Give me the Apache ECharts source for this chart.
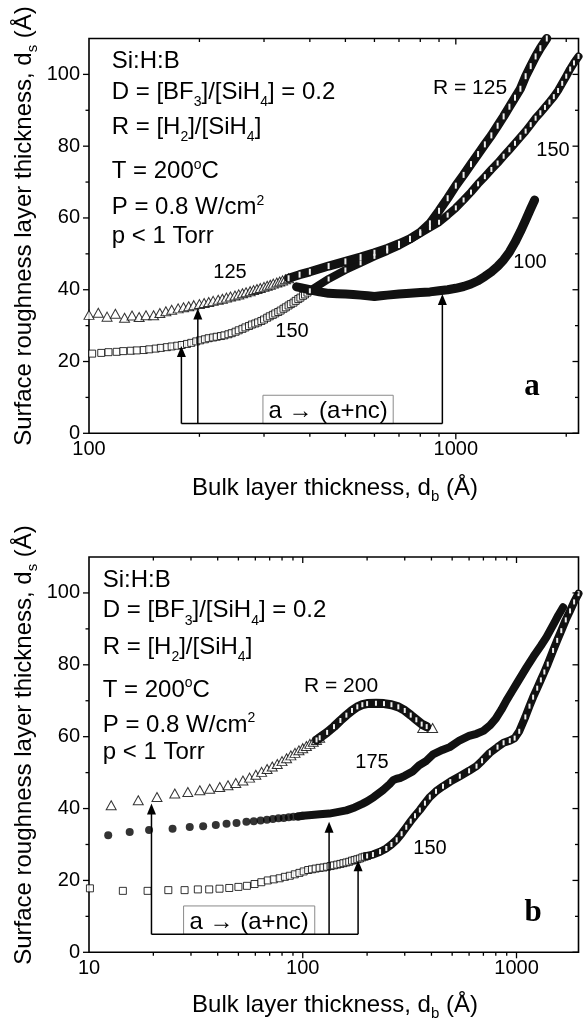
<!DOCTYPE html>
<html><head><meta charset="utf-8">
<script src="https://cdn.jsdelivr.net/npm/echarts@6/dist/echarts.min.js"></script>
<style>html,body{margin:0;padding:0;background:#fff}#c{width:583px;height:1018px}</style>
</head><body><div id="c"></div>
<script>
// ---------------- DATA ----------------
// axis ticks
const yMajor = [0, 20, 40, 60, 80, 100];
const yMinor = [10, 30, 50, 70, 90];
const xMajorA = [1000];
const xMinorA = [200, 300, 400, 500, 600, 700, 800, 900, 2000];
const xMajorB = [100, 1000];
const xMinorB = [20, 30, 40, 50, 60, 70, 80, 90, 200, 300, 400, 500, 600, 700, 800, 900];

// Panel a : R = 125 (open triangles)
const aR125Sparse = [[100,33],[106,33.6],[112,32.5],[118,33.3],[125,32.2],[131,32.8],[137,32.4],[143,32.9],[150,32.9],[156,33.5],[162,34],[168,34.4],[175,34.8],[181,35.1],[187,35.4],[193,35.7],[200,36],[206,36.3],[212,36.6],[218,36.9],[225,37.2],[231,37.5],[237,37.8],[243,38.1],[250,38.4],[256,38.7],[262,39],[268,39.3],[275,39.6],[281,39.9],[287,40.2],[293,40.5],[300,40.8],[306,41.1],[312,41.4],[318,41.7],[325,42],[331,42.3],[337,42.6],[343,42.9],[350,43.2]];
const aR125Dense = [[350,43.2],[375,44.2],[400,45],[450,46.6],[500,47.9],[550,49.1],[600,50.3],[650,51.5],[700,52.8],[750,54.2],[800,56],[850,58.5],[900,62],[950,65.5],[1000,69],[1050,72],[1100,75],[1150,77.8],[1200,80.5],[1250,83],[1300,85.7],[1350,88.3],[1400,91],[1450,93.5],[1500,96],[1550,99.5],[1600,102.3],[1650,105],[1700,107.3],[1770,110]];
// Panel a : R = 150 (open squares)
const aR150Sparse = [[102,22.2],[108,22.4],[113,22.6],[119,22.7],[124,22.9],[130,23],[135,23.1],[141,23.2],[146,23.4],[152,23.6],[157,23.8],[163,24],[168,24.2],[174,24.4],[179,24.6],[185,24.9],[190,25.2],[196,25.6],[201,25.9],[207,26.2],[212,26.5],[218,26.7],[223,26.9],[229,27.1],[234,27.3],[240,27.6],[245,27.9],[251,28.3],[256,28.7],[262,29.1],[267,29.5],[273,29.9],[278,30.3],[284,30.6],[289,30.9],[295,31.3],[300,31.7],[306,32.2],[311,32.6],[317,33],[322,33.4],[328,33.8],[333,34.2],[339,34.7],[344,35.1],[350,35.6],[355,36],[361,36.4],[366,36.9],[372,37.4],[377,37.8],[383,38.3],[388,38.7],[394,39.2],[400,39.7]];
const aR150Dense = [[400,39.7],[450,43],[500,45.5],[550,47.5],[600,49.3],[650,50.8],[700,52.3],[750,54],[800,55.7],[850,57.3],[900,58.8],[950,60.8],[1000,62.8],[1050,65],[1100,67.2],[1150,69.5],[1200,71.5],[1250,73.5],[1300,75.3],[1350,77.2],[1400,79],[1450,80.8],[1500,82.5],[1550,84.2],[1600,86],[1650,87.8],[1700,89.3],[1750,90.8],[1800,92.3],[1850,93.8],[1900,95.5],[1950,97.5],[2000,99.5],[2050,101.5],[2100,103.2],[2160,105]];
// Panel a : R = 100 (filled circles, dense)
const aR100 = [[368,40.8],[380,40.5],[400,40],[425,39.4],[450,39],[475,38.9],[500,38.8],[525,38.7],[550,38.5],[575,38.3],[600,38.1],[625,38.3],[650,38.5],[700,38.8],[750,39],[800,39.2],[850,39.4],[900,39.7],[950,40],[1000,40.4],[1050,40.9],[1100,41.6],[1150,42.5],[1200,43.7],[1250,45],[1300,46.5],[1350,48.3],[1400,50.5],[1450,53.2],[1500,56.2],[1550,59.4],[1600,62.6],[1640,65]];

// Panel b : R = 200 (open triangles)
const bR200Sparse = [[12.7,40.9],[17,42.3],[20.8,43.2],[25.2,44.2],[29,44.6],[33,45.1],[36.7,45.5],[40.9,46],[44.7,46.5],[48.6,47.1],[52.5,47.8],[56.4,48.6],[60.3,49.4],[64.2,50.2],[68.1,51],[72,51.7],[76,52.4],[80,53.2],[84,54],[88,54.8],[92,55.5],[96,56.2],[100,56.8],[104,57.4],[108,58],[112,58.6],[116,59.1],[120,59.7]];
const bR200Dense = [[116,59.1],[120,59.7],[130,61.2],[140,62.8],[150,64.5],[160,66],[170,67.3],[180,68.3],[190,68.9],[200,69.2],[220,69.3],[240,69.2],[260,68.9],[280,68.3],[300,67.3],[320,66],[340,64.7],[360,63.5],[380,62.8]];
const bR200Tail = [[364,62.4],[405,62.4]];
// Panel b : R = 175 (filled circles)
const bR175Sparse = [[12.3,32.6],[15.5,33.5],[19.1,34],[24.6,34.4],[29.6,34.9],[34.2,35.1],[39.2,35.4],[44,35.8],[49,36],[54.5,36.3],[59,36.5],[63.5,36.7],[68,36.9],[72.5,37.1],[77,37.3],[81.5,37.4],[86,37.6],[90.5,37.7],[95,37.8],[99.5,38]];
const bR175Dense = [[95,37.8],[100,38],[110,38.2],[120,38.4],[133,38.6],[145,39],[160,39.5],[175,40.3],[190,41.3],[200,42],[215,43.2],[237,45.1],[255,46.8],[265,47.9],[275,48.3],[285,48.5],[300,49.1],[328,50.4],[350,52],[379,53.3],[407,55.1],[450,56.3],[487,57.1],[543,59],[600,60.2],[650,60.8],[700,61.6],[750,63.1],[800,65],[850,67.5],[898,70.1],[950,72.5],[1000,74.7],[1114,79.3],[1200,82.3],[1300,85.3],[1381,87.7],[1450,90],[1500,91.6],[1570,93.8],[1652,96]];
// Panel b : R = 150 (open squares)
const bR150Sparse = [[10.1,17.8],[14.4,17.1],[18.8,17.1],[23.5,17.3],[28,17.3],[32.3,17.5],[36.5,17.5],[40.8,17.7],[45.3,17.9],[50,18.2],[54.8,18.5],[59.5,19],[64,19.5],[68.6,20],[73.2,20.3],[78,20.6],[82.5,21],[87,21.3],[91.8,21.7],[96.5,22.1],[101,22.5],[106,22.9],[110.5,23.1],[115,23.3],[120,23.5],[125,23.6],[130,23.8],[135,24],[140,24.2],[145,24.4],[150,24.6],[155,24.8],[160,25],[165,25.2],[170,25.5],[175,25.7],[180,25.9],[185,26.1],[190,26.4],[195,26.6],[200,26.8]];
const bR150Dense = [[200,26.8],[213,27.2],[230,28],[246,28.9],[260,30],[275,31.3],[290,33],[305,34.8],[320,36.5],[335,38],[353,39.6],[373,41.5],[393,43.2],[420,44.8],[453,46.2],[490,47.5],[543,49],[600,50.5],[650,51.8],[690,53.3],[750,55.5],[815,57.1],[870,58.3],[930,58.9],[980,59.6],[1030,61.5],[1100,65.5],[1150,68.5],[1196,71],[1250,73.5],[1300,75.8],[1350,78],[1400,80.2],[1483,84],[1550,86.8],[1620,89.5],[1700,92.5],[1780,95],[1860,97.5],[1950,99.8]];

// transition arrows [x, tip y] and bracket baseline, label box [x0, y0, x1, y1]
const arrowsA = [[178.6,24.3],[198,34.8],[919,38.8]];
const baseA = 2.7;
const boxA = [298, 2.7, 675, 10.6];
const arrowsB = [[19.6,41.4],[132.8,36.3],[181.5,25.6]];
const baseB = 5.0;
const boxB = [27.7, 5.0, 113.8, 12.9];

// ---------------- CHART ----------------
const F = "'Liberation Sans', Arial, Helvetica, sans-serif";
const FS = "'Liberation Serif', 'Times New Roman', serif";
const Y_MAX = 110;
const panels = [
  {xMin:100, xMax:2160, xMajor:xMajorA, xMinor:xMinorA},
  {xMin:10, xMax:1950, xMajor:xMajorB, xMinor:xMinorB}
];

function isPow10(v){ const l = Math.log10(v); return Math.abs(l - Math.round(l)) < 1e-6; }

const grids = [
  {left:89, right:4.5, top:38.5, height:394.8, show:true, borderColor:'#000', borderWidth:1.6, backgroundColor:'transparent'},
  {left:89, right:4.5, top:557, height:395.3, show:true, borderColor:'#000', borderWidth:1.6, backgroundColor:'transparent'}
];
const xAxes = panels.map((p, i) => ({
  type:'log', logBase:10, gridIndex:i, min:p.xMin, max:p.xMax,
  axisLine:{show:false}, axisTick:{show:false}, splitLine:{show:false},
  axisLabel:{fontSize:20, fontFamily:F, color:'#000', margin:6,
    formatter: v => isPow10(v) ? String(Math.round(v)) : ''}
}));
const yAxes = panels.map((p, i) => ({
  type:'value', gridIndex:i, min:0, max:Y_MAX, interval:20,
  axisLine:{show:false}, axisTick:{show:false}, splitLine:{show:false},
  axisLabel:{fontSize:20, fontFamily:F, color:'#000', margin:9,
    formatter: v => v > 100 ? '' : String(v)}
}));

function tickSeries(i) {
  const p = panels[i], d = [];
  p.xMajor.forEach(v => { d.push([v,0,0,1,6]); d.push([v,Y_MAX,0,1,6]); });
  p.xMinor.forEach(v => { d.push([v,0,0,1,3.5]); d.push([v,Y_MAX,0,1,3.5]); });
  yMajor.forEach(v => { d.push([p.xMin,v,-1,0,6]); d.push([p.xMax,v,-1,0,6]); });
  yMinor.forEach(v => { d.push([p.xMin,v,-1,0,3.5]); d.push([p.xMax,v,-1,0,3.5]); });
  return {type:'custom', xAxisIndex:i, yAxisIndex:i, clip:false, silent:true, z:6, data:d,
    renderItem:(params, api) => {
      const c = api.coord([api.value(0), api.value(1)]); const L = api.value(4);
      return {type:'line', shape:{x1:c[0], y1:c[1], x2:c[0]+api.value(2)*L, y2:c[1]+api.value(3)*L},
        style:{stroke:'#000', lineWidth:1.3}};
    }};
}
function scatter(i, data, symbol, size, fill, bw) {
  return {type:'scatter', xAxisIndex:i, yAxisIndex:i, data, symbol, symbolSize:size, silent:true,
    itemStyle:{color:fill, borderColor:'#000', borderWidth:bw}, emphasis:{disabled:true}};
}
// dense runs of overlapping markers: a thick dark band with light hatch dashes
function band(i, data, width, hatch) {
  return {type:'line', xAxisIndex:i, yAxisIndex:i, data, silent:true, smooth:false,
    showSymbol: !!hatch, symbol: hatch ? 'rect' : 'none', symbolSize: hatch || 0,
    itemStyle:{color:'#eee', borderWidth:0},
    lineStyle:{color:'#111', width, cap:'round', join:'round'}, emphasis:{disabled:true}};
}
function arrowSeries(i, arrows, base) {
  return {type:'custom', xAxisIndex:i, yAxisIndex:i, clip:false, silent:true, z:5,
    data: arrows.map(a => [a[0], a[1], base]),
    renderItem:(params, api) => {
      const tip = api.coord([api.value(0), api.value(1)]);
      const bot = api.coord([api.value(0), api.value(2)]);
      return {type:'group', children:[
        {type:'line', shape:{x1:tip[0], y1:tip[1]+8, x2:bot[0], y2:bot[1]}, style:{stroke:'#000', lineWidth:1.5}},
        {type:'polygon', shape:{points:[[tip[0],tip[1]],[tip[0]-4.5,tip[1]+11],[tip[0]+4.5,tip[1]+11]]}, style:{fill:'#000'}}
      ]};
    }};
}
function baseSeries(i, arrows, base) {
  return {type:'line', xAxisIndex:i, yAxisIndex:i, silent:true, symbol:'none', z:5,
    data:[[arrows[0][0], base],[arrows[arrows.length-1][0], base]],
    lineStyle:{color:'#000', width:1.5}, emphasis:{disabled:true}};
}
function boxSeries(i, box) {
  return {type:'custom', xAxisIndex:i, yAxisIndex:i, clip:false, silent:true, z:4, data:[box],
    renderItem:(params, api) => {
      const p0 = api.coord([api.value(0), api.value(1)]);
      const p1 = api.coord([api.value(2), api.value(3)]);
      const cx = (p0[0]+p1[0])/2, cy = (p0[1]+p1[1])/2 + 2;
      return {type:'group', children:[
        {type:'rect', shape:{x:p0[0], y:p1[1], width:p1[0]-p0[0], height:p0[1]-p1[1]},
          style:{fill:'none', stroke:'#8a8a8a', lineWidth:1}},
        {type:'text', style:{text:'a \u2192 (a+nc)', x:cx, y:cy, align:'center', verticalAlign:'middle',
          textAlign:'center', textVerticalAlign:'middle', fontSize:24, fontFamily:F, fill:'#000'}}
      ]};
    }};
}

const series = [
  // panel a
  band(0, aR150Dense, 8, [2,5]),
  scatter(0, aR150Sparse, 'rect', 7, '#fff', 1),
  band(0, aR125Dense, 9, [2,6]),
  scatter(0, aR125Sparse, 'triangle', [10,9], '#fff', 1),
  band(0, aR100, 9, null),
  tickSeries(0), boxSeries(0, boxA), baseSeries(0, arrowsA, baseA), arrowSeries(0, arrowsA, baseA),
  // panel b
  band(1, bR150Dense, 8, [2,5]),
  scatter(1, bR150Sparse, 'rect', 7, '#fff', 1),
  band(1, bR175Dense, 8, null),
  scatter(1, bR175Sparse, 'circle', 8, '#000', 0),
  band(1, bR200Dense, 9, [2,5]),
  scatter(1, bR200Sparse, 'triangle', [10,9], '#fff', 1),
  scatter(1, bR200Tail, 'triangle', [10,9], '#fff', 1),
  tickSeries(1), boxSeries(1, boxB), baseSeries(1, arrowsB, baseB), arrowSeries(1, arrowsB, baseB)
];

// text helpers
const RICH = {
  n:{fontSize:24, fontFamily:F, lineHeight:30, fill:'#000'},
  sub:{fontSize:14, fontFamily:F, lineHeight:30, padding:[20,0,0,0], fill:'#000'},
  sup:{fontSize:14, fontFamily:F, lineHeight:30, padding:[0,0,13,0], fill:'#000'},
  ts:{fontSize:15, fontFamily:F, lineHeight:30, padding:[18,0,0,0], fill:'#000'}
};
function txt(text, x, y, opts) {
  opts = opts || {};
  return {type:'text', x, y, rotation: opts.rot || 0, silent:true, z:10,
    style:{text, rich:RICH, x:0, y:0,
      align: opts.align || 'left', verticalAlign:'middle',
      textAlign: opts.align || 'left', textVerticalAlign:'middle',
      fontSize: opts.size || 24, fontFamily: opts.family || F, fontWeight: opts.weight || 'normal', fill:'#000'}};
}
const infoLines = [
  '{n|Si:H:B}',
  '{n|D = [BF}{sub|3}{n|]/[SiH}{sub|4}{n|] = 0.2}',
  '{n|R = [H}{sub|2}{n|]/[SiH}{sub|4}{n|]}',
  '{n|T = 200}{sup|o}{n|C}',
  '{n|P = 0.8 W/cm}{sup|2}',
  '{n|p < 1 Torr}'
];
const infoYA = [61.7, 92.5, 127.5, 171.7, 207.5, 236.5];
const infoYB = [580.8, 610.8, 647.5, 690, 725, 752.5];
const yTitle = '{n|Surface roughness layer thickness, d}{ts|s}{n| (\u00C5)}';
const xTitle = '{n|Bulk layer thickness, d}{ts|b}{n| (\u00C5)}';

const graphics = [];
infoLines.forEach((l, k) => { graphics.push(txt(l, 111.7, infoYA[k])); graphics.push(txt(l, 102.7, infoYB[k])); });
graphics.push(txt(yTitle, 24, 226, {align:'center', rot:Math.PI/2}));
graphics.push(txt(yTitle, 24, 745, {align:'center', rot:Math.PI/2}));
graphics.push(txt(xTitle, 335, 488, {align:'center'}));
graphics.push(txt(xTitle, 335, 1005, {align:'center'}));
// curve labels
graphics.push(txt('R = 125', 470, 88, {align:'center', size:21}));
graphics.push(txt('150', 553, 150, {align:'center', size:20}));
graphics.push(txt('100', 530, 262, {align:'center', size:20}));
graphics.push(txt('125', 230, 272, {align:'center', size:20}));
graphics.push(txt('150', 292, 331, {align:'center', size:20}));
graphics.push(txt('a', 532, 386.6, {align:'center', size:31, family:FS, weight:'bold'}));
graphics.push(txt('R = 200', 341, 686, {align:'center', size:21}));
graphics.push(txt('175', 372, 762, {align:'center', size:20}));
graphics.push(txt('150', 430, 848, {align:'center', size:20}));
graphics.push(txt('b', 533, 913, {align:'center', size:31, family:FS, weight:'bold'}));

const chart = echarts.init(document.getElementById('c'), null, {renderer:'canvas', width:583, height:1018});
chart.setOption({
  animation:false,
  backgroundColor:'#fff',
  grid:grids, xAxis:xAxes, yAxis:yAxes, series, graphic:graphics
});
</script></body></html>
